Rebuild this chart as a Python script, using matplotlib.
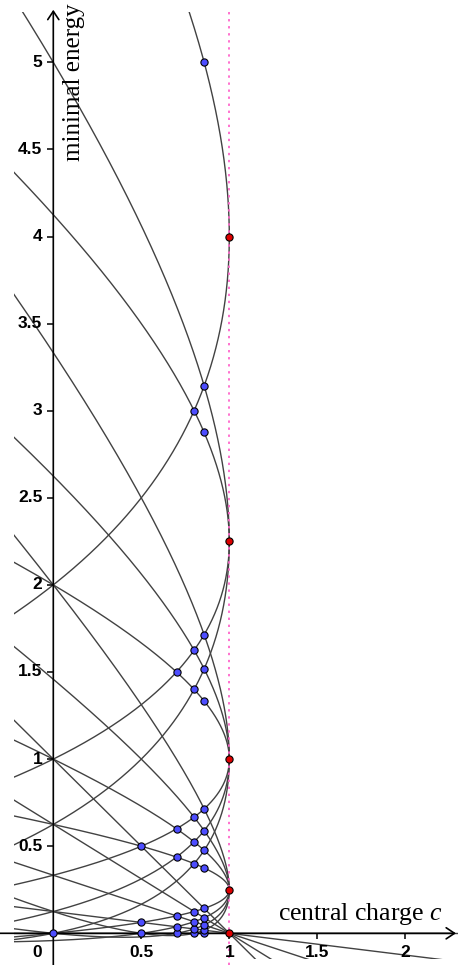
import numpy as np
import matplotlib
matplotlib.use("Agg")
import matplotlib.pyplot as plt
from matplotlib.patches import Rectangle

# ---------------- data ----------------
# Kac labels (r, s) of the curves h_{r,s}(c)
kac_r = [1, 2, 3, 4, 5]
kac_s = [1, 2, 3, 4, 5]

# minimal-model points (central charge, conformal weight)
model_c = [0.0,
           0.5, 0.5, 0.5,
           0.7, 0.7, 0.7, 0.7, 0.7, 0.7,
           0.8, 0.8, 0.8, 0.8, 0.8, 0.8, 0.8, 0.8, 0.8, 0.8,
           0.857, 0.857, 0.857, 0.857, 0.857, 0.857, 0.857, 0.857,
           0.857, 0.857, 0.857, 0.857, 0.857, 0.857, 0.857]
model_h = [0.0,
           0.0, 0.0625, 0.5,
           0.0, 0.0375, 0.1, 0.4375, 0.6, 1.5,
           0.0, 0.025, 0.0667, 0.125, 0.4, 0.525, 0.6667, 1.4, 1.625, 3.0,
           0.0, 0.0179, 0.0476, 0.0893, 0.1429, 0.375, 0.4762, 0.5893,
           0.7143, 1.3333, 1.5179, 1.7143, 2.875, 3.1429, 5.0]

# c = 1 points
free_c = [1.0, 1.0, 1.0, 1.0, 1.0]
free_h = [0.0, 0.25, 1.0, 2.25, 4.0]

x_ticks = [0.5, 1, 1.5, 2]
x_tick_labels = ["0.5", "1", "1.5", "2"]
y_ticks = [0.5, 1, 1.5, 2, 2.5, 3, 3.5, 4, 4.5, 5]
y_tick_labels = ["0.5", "1", "1.5", "2", "2.5", "3", "3.5", "4", "4.5", "5"]

# ---------------- figure ----------------
W, H = 458, 965
fig = plt.figure(figsize=(W / 100, H / 100), dpi=100)
ax = fig.add_axes([0, 0, 1, 1])
ax.axis("off")

x0px, y0px = 53.3, 933.3       # origin in pixels
sx, sy = 176.0, 174.2          # pixels per unit
xmin, xmax = -x0px / sx, (W - x0px) / sx
ymin, ymax = -(H - y0px) / sy, y0px / sy
ax.set_xlim(xmin, xmax)
ax.set_ylim(ymin, ymax)

curve_color = "#424242"
clip_left, clip_bottom, clip_top = -0.222, -0.148, 5.29
clip = Rectangle((clip_left, clip_bottom), xmax - clip_left + 1,
                 clip_top - clip_bottom, transform=ax.transData)

def c_of_t(t):
    return 13 - 6 * (t + 1 / t)

def h_of_t(r, s, t):
    return ((r * t - s) ** 2 - (t - 1) ** 2) / (4 * t)

u = np.linspace(0, np.sqrt(0.62), 1500)
t = 1 + u ** 2
cc = c_of_t(t)

for i, r in enumerate(kac_r):
    for s in kac_s[i:]:
        if r == s:
            cl = np.array([clip_left, xmax])
            hl = (r * r - 1) * (1 - cl) / 24
            ln, = ax.plot(cl, hl, color=curve_color, lw=1.0, zorder=2)
        else:
            hb1 = h_of_t(r, s, t)
            hb2 = h_of_t(s, r, t)
            carc = np.concatenate([cc[::-1], cc])
            harc = np.concatenate([hb2[::-1], hb1])
            ln, = ax.plot(carc, harc, color=curve_color, lw=1.0, zorder=2)
        ln.set_clip_path(clip)

# pink dotted line at c = 1
ax.plot([1, 1], [ymin, clip_top], color="#ff66cc", lw=1.3,
        linestyle=(0, (1.3, 2.6)), zorder=3)

# axes
ax.annotate("", xy=(xmax - 2 / sx, 0), xytext=(xmin, 0),
            arrowprops=dict(arrowstyle="->,head_length=0.6,head_width=0.4",
                            lw=1.2, color="black", shrinkA=0, shrinkB=0,
                            mutation_scale=10), zorder=4)
ax.annotate("", xy=(0, clip_top + 2 / sy), xytext=(0, ymin),
            arrowprops=dict(arrowstyle="->,head_length=0.6,head_width=0.4",
                            lw=1.2, color="black", shrinkA=0, shrinkB=0,
                            mutation_scale=10), zorder=4)
ax.plot(x_ticks, [0] * len(x_ticks), ls="", marker=3, ms=4, mew=1.1,
        color="black", zorder=4)
ax.plot([0] * len(y_ticks), y_ticks, ls="", marker=0, ms=4, mew=1.1,
        color="black", zorder=4)

tick_font = dict(family="Liberation Sans", fontsize=12.5, fontweight="bold",
                 color="black")
for xv, lab in zip(x_ticks, x_tick_labels):
    ax.annotate(lab, xy=(xv, 0), xytext=(0, -19), textcoords="offset pixels",
                ha="center", va="center", **tick_font)
ax.annotate("0", xy=(0, 0), xytext=(-16, -19), textcoords="offset pixels",
            ha="center", va="center", **tick_font)
for yv, lab in zip(y_ticks, y_tick_labels):
    ax.annotate(lab, xy=(0, yv), xytext=(-11, 0), textcoords="offset pixels",
                ha="right", va="center", **tick_font)

# points
ax.plot(model_c, model_h, ls="", marker="o", ms=5.2, mfc="#4d4dff",
        mec="black", mew=0.8, zorder=6)
ax.plot(free_c, free_h, ls="", marker="o", ms=5.2, mfc="#dd0000",
        mec="black", mew=0.8, zorder=6)

# axis titles
plt.rcParams["mathtext.fontset"] = "custom"
plt.rcParams["mathtext.it"] = "Liberation Serif:italic"
plt.rcParams["mathtext.rm"] = "Liberation Serif"
fig.text(278 / W, 1 - 920 / H, r"central charge $c$", family="Liberation Serif",
         fontsize=18.5, ha="left", va="baseline")
fig.text(80 / W, 1 - 161 / H, "minimal energy", family="Liberation Serif",
         fontsize=18, rotation=90, rotation_mode="anchor",
         ha="left", va="baseline")

fig.savefig("out.png", dpi=100)
